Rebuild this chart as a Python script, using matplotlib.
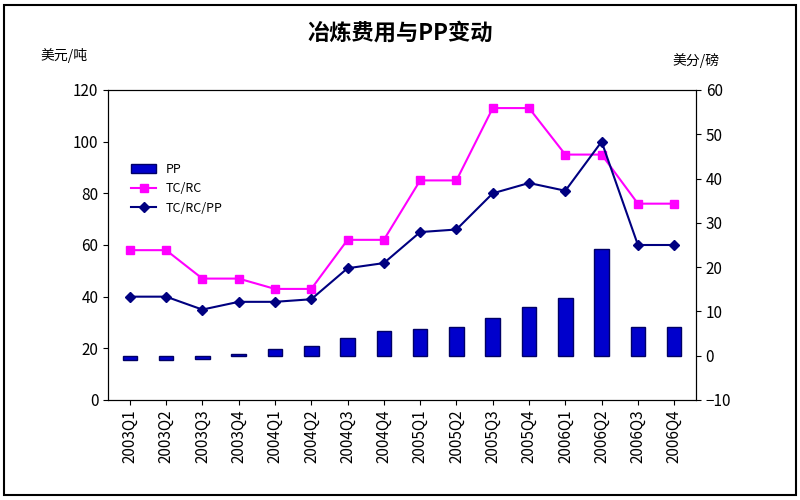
import matplotlib
matplotlib.use('Agg')
import matplotlib.pyplot as plt
import numpy as np

plt.rcParams['font.family'] = ['Noto Sans CJK SC', 'DejaVu Sans']

quarters = ['2003Q1', '2003Q2', '2003Q3', '2003Q4', '2004Q1', '2004Q2', '2004Q3', '2004Q4',
            '2005Q1', '2005Q2', '2005Q3', '2005Q4', '2006Q1', '2006Q2', '2006Q3', '2006Q4']
pp = [-1, -1, -0.7, 0.5, 1.5, 2.3, 4, 5.5, 6, 6.5, 8.5, 11, 13, 24, 6.5, 6.5]
tc_rc = [58, 58, 47, 47, 43, 43, 62, 62, 85, 85, 113, 113, 95, 95, 76, 76]
tc_rc_pp = [40, 40, 35, 38, 38, 39, 51, 53, 65, 66, 80, 84, 81, 100, 60, 60]

fig = plt.figure(figsize=(8, 5), dpi=100)
ax = fig.add_axes([0.135, 0.2, 0.735, 0.62])
ax2 = ax.twinx()
x = np.arange(len(quarters))

ax2.bar(x, pp, width=0.4, color='#0000cc', edgecolor='#000066', label='PP', zorder=1)
l1, = ax.plot(x, tc_rc, color='#ff00ff', marker='s', markersize=6, lw=1.5, label='TC/RC')
l2, = ax.plot(x, tc_rc_pp, color='#000080', marker='D', markersize=5, lw=1.5, label='TC/RC/PP')
ax.set_zorder(ax2.get_zorder() + 1)
ax.patch.set_visible(False)

ax.set_ylim(0, 120)
ax.set_yticks(range(0, 121, 20))
ax2.set_ylim(-10, 60)
ax2.set_yticks(range(-10, 61, 10))
ax.set_xlim(-0.6, len(quarters) - 0.4)
ax.set_xticks(x)
ax.set_xticklabels(quarters, rotation=90, fontsize=8)
ax.tick_params(labelsize=11)
ax2.tick_params(labelsize=11)

h2, lab2 = ax2.get_legend_handles_labels()
ax.legend(h2 + [l1, l2], lab2 + ['TC/RC', 'TC/RC/PP'], loc='upper left',
          bbox_to_anchor=(0.02, 0.8), frameon=False, fontsize=9)

fig.text(0.5, 0.92, '冶炼费用与PP变动', ha='center', fontsize=16, fontweight='bold')
fig.text(0.05, 0.88, '美元/吨', fontsize=10)
fig.text(0.84, 0.87, '美分/磅', fontsize=10)
fig.patches.append(plt.Rectangle((0.005, 0.01), 0.99, 0.98, transform=fig.transFigure,
                                 fill=False, edgecolor='black', lw=1.5))

fig.savefig('out.png', dpi=100)
